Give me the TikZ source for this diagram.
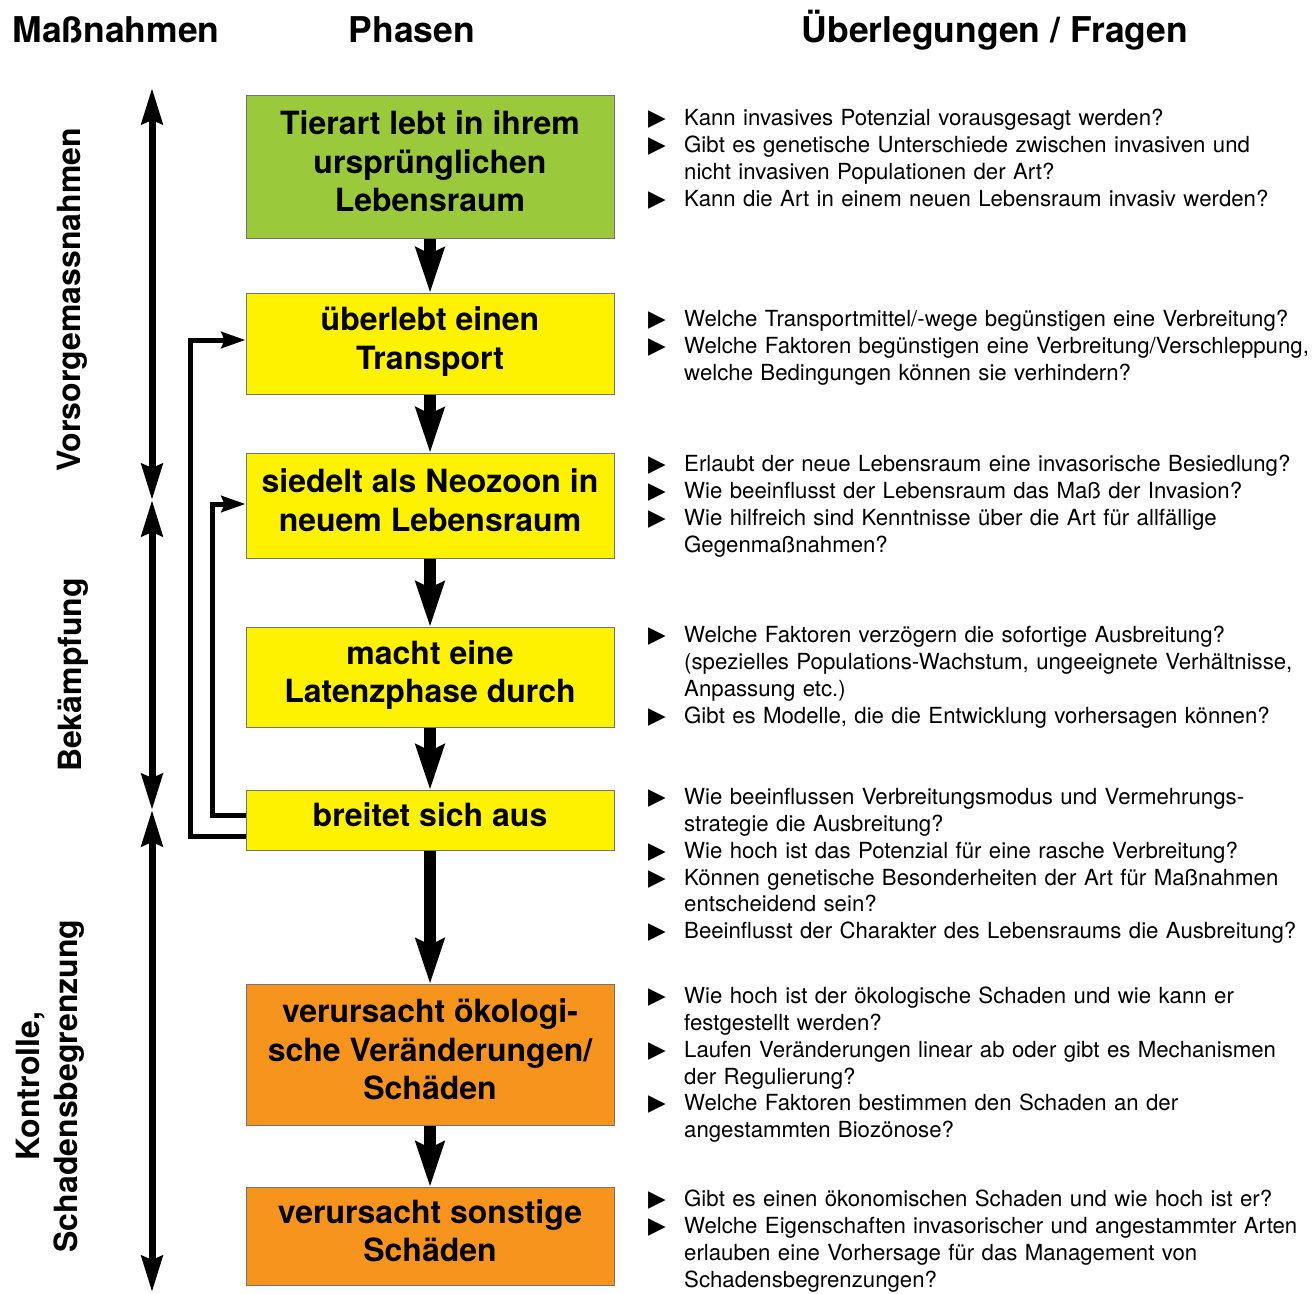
\documentclass[tikz,border=0pt]{standalone}
\usepackage{fontspec}
\setmainfont{TeX Gyre Heros}
\newfontfamily\symb{DejaVu Sans}
\usetikzlibrary{arrows.meta,positioning}
\definecolor{gruen}{HTML}{9ACA3C}
\definecolor{gelb}{HTML}{FFF200}
\definecolor{orangeb}{HTML}{F7941D}
\newenvironment{fragen}{\begin{list}{{\symb\fontsize{23}{23}\selectfont ▶}}{%
  \setlength{\leftmargin}{36pt}\setlength{\labelwidth}{36pt}%
  \setlength{\labelsep}{0pt}\setlength{\itemsep}{0pt}\setlength{\parsep}{0pt}%
  \setlength{\topsep}{0pt}\setlength{\partopsep}{0pt}\def\makelabel##1{##1\hfil}}}%
  {\end{list}}
\newcommand{\phtext}[1]{\raisebox{1.5pt}[\height][\depth]{\begin{tabular}{@{}c@{}}#1\end{tabular}}}
\begin{document}
\begin{tikzpicture}[x=1pt,y=-1pt]
\tikzset{phase/.style={draw=black!55,line width=1pt,minimum width=368pt,align=center,
    inner sep=0pt,anchor=north,font=\fontsize{32}{38.5}\selectfont\bfseries},
  kopf/.style={font=\fontsize{35.5}{40}\selectfont\bfseries},
  seite/.style={rotate=90,align=center,font=\fontsize{32}{38}\selectfont\bfseries},
  frage/.style={anchor=north west,inner sep=0pt,text width=680pt,align=left,
    font=\fontsize{22.2}{26.7}\selectfont},
  flow/.style={line width=12pt,-{Stealth[length=45pt,width=28pt,inset=6pt]}},
  achse/.style={line width=7pt,{Stealth[length=36pt,width=21pt,inset=4pt]}-{Stealth[length=36pt,width=21pt,inset=4pt]}},
  zurueck/.style={line width=5pt,-{Stealth[length=24pt,width=16pt,inset=3pt]}}}
\useasboundingbox (0,0) rectangle (1314,1293);

% Kopfzeile
\node[kopf] (hmass) at (116,30) {Maßnahmen};
\node[kopf] (hphas) at (412,30) {Phasen};
\node[kopf] (hfrag) at (995,30) {Überlegungen / Fragen};

% Phasen
\node[phase,fill=gruen,minimum height=143pt] (tierart) at (430,95) {\phtext{Tierart lebt in ihrem\\ursprünglichen\\Lebensraum}};
\node[phase,fill=gelb,minimum height=101pt] (transport) at (430,293) {\phtext{überlebt einen\\Transport}};
\node[phase,fill=gelb,minimum height=105pt] (neozoon) at (430,453) {\phtext{siedelt als Neozoon in\\neuem Lebensraum}};
\node[phase,fill=gelb,minimum height=100pt] (latenz) at (430,627) {\phtext{macht eine\\Latenzphase durch}};
\node[phase,fill=gelb,minimum height=60pt] (ausbreitung) at (430,790) {\phtext{breitet sich aus}};
\node[phase,fill=orangeb,minimum height=141pt] (oeko) at (430,984) {\phtext{verursacht ökologi-\\sche Veränderungen/\\Schäden}};
\node[phase,fill=orangeb,minimum height=98pt] (sonstige) at (430,1187) {\phtext{verursacht sonstige\\Schäden}};

\draw[flow] (tierart) -- (transport);
\draw[flow] (transport) -- (neozoon);
\draw[flow] (neozoon) -- (latenz);
\draw[flow] (latenz) -- (ausbreitung);
\draw[flow] (ausbreitung) -- (oeko);
\draw[flow] (oeko) -- (sonstige);

% Rueckkopplung
\draw[zurueck] ([yshift=-16pt]ausbreitung.west) -| ([xshift=-55pt,yshift=4pt]transport.west) -- ([yshift=4pt]transport.west);
\draw[zurueck] ([yshift=5pt]ausbreitung.west) -| ([xshift=-33pt,yshift=2pt]neozoon.west) -- ([yshift=2pt]neozoon.west);

% Massnahmen
\coordinate (m0) at (152,88);
\coordinate (m1) at (152,500);
\coordinate (m2) at (152,810);
\coordinate (m3) at (152,1292);
\draw[achse] (m0) -- (m1);
\draw[achse] (m1) -- (m2);
\draw[achse] (m2) -- (m3);
\node[seite] (vorsorge) at (72,300) {Vorsorgemassnahmen};
\node[seite] (bekaempf) at (73,675) {Bekämpfung};
\node[seite] (kontrolle) at (50,1086) {Kontrolle,\\Schadensbegrenzung};

% Fragen
\node[frage] (f1) at (648,99) {\begin{fragen}
\item Kann invasives Potenzial vorausgesagt werden?
\item Gibt es genetische Unterschiede zwischen invasiven und\\nicht invasiven Populationen der Art?
\item Kann die Art in einem neuen Lebensraum invasiv werden?
\end{fragen}};
\node[frage] (f2) at (648,300) {\begin{fragen}
\item Welche Transportmittel/-wege begünstigen eine Verbreitung?
\item Welche Faktoren begünstigen eine Verbreitung/Verschleppung,\\welche Bedingungen können sie verhindern?
\end{fragen}};
\node[frage] (f3) at (648,445) {\begin{fragen}
\item Erlaubt der neue Lebensraum eine invasorische Besiedlung?
\item Wie beeinflusst der Lebensraum das Maß der Invasion?
\item Wie hilfreich sind Kenntnisse über die Art für allfällige\\Gegenmaßnahmen?
\end{fragen}};
\node[frage] (f4) at (648,616) {\begin{fragen}
\item Welche Faktoren verzögern die sofortige Ausbreitung?\\(spezielles Populations-Wachstum, ungeeignete Verhältnisse,\\Anpassung etc.)
\item Gibt es Modelle, die die Entwicklung vorhersagen können?
\end{fragen}};
\node[frage] (f5) at (648,778) {\begin{fragen}
\item Wie beeinflussen Verbreitungsmodus und Vermehrungs-\\strategie die Ausbreitung?
\item Wie hoch ist das Potenzial für eine rasche Verbreitung?
\item Können genetische Besonderheiten der Art für Maßnahmen\\entscheidend sein?
\item Beeinflusst der Charakter des Lebensraums die Ausbreitung?
\end{fragen}};
\node[frage] (f6) at (648,977) {\begin{fragen}
\item Wie hoch ist der ökologische Schaden und wie kann er\\festgestellt werden?
\item Laufen Veränderungen linear ab oder gibt es Mechanismen\\der Regulierung?
\item Welche Faktoren bestimmen den Schaden an der\\angestammten Biozönose?
\end{fragen}};
\node[frage] (f7) at (648,1180) {\begin{fragen}
\item Gibt es einen ökonomischen Schaden und wie hoch ist er?
\item Welche Eigenschaften invasorischer und angestammter Arten\\erlauben eine Vorhersage für das Management von\\Schadensbegrenzungen?
\end{fragen}};
\end{tikzpicture}
\end{document}
